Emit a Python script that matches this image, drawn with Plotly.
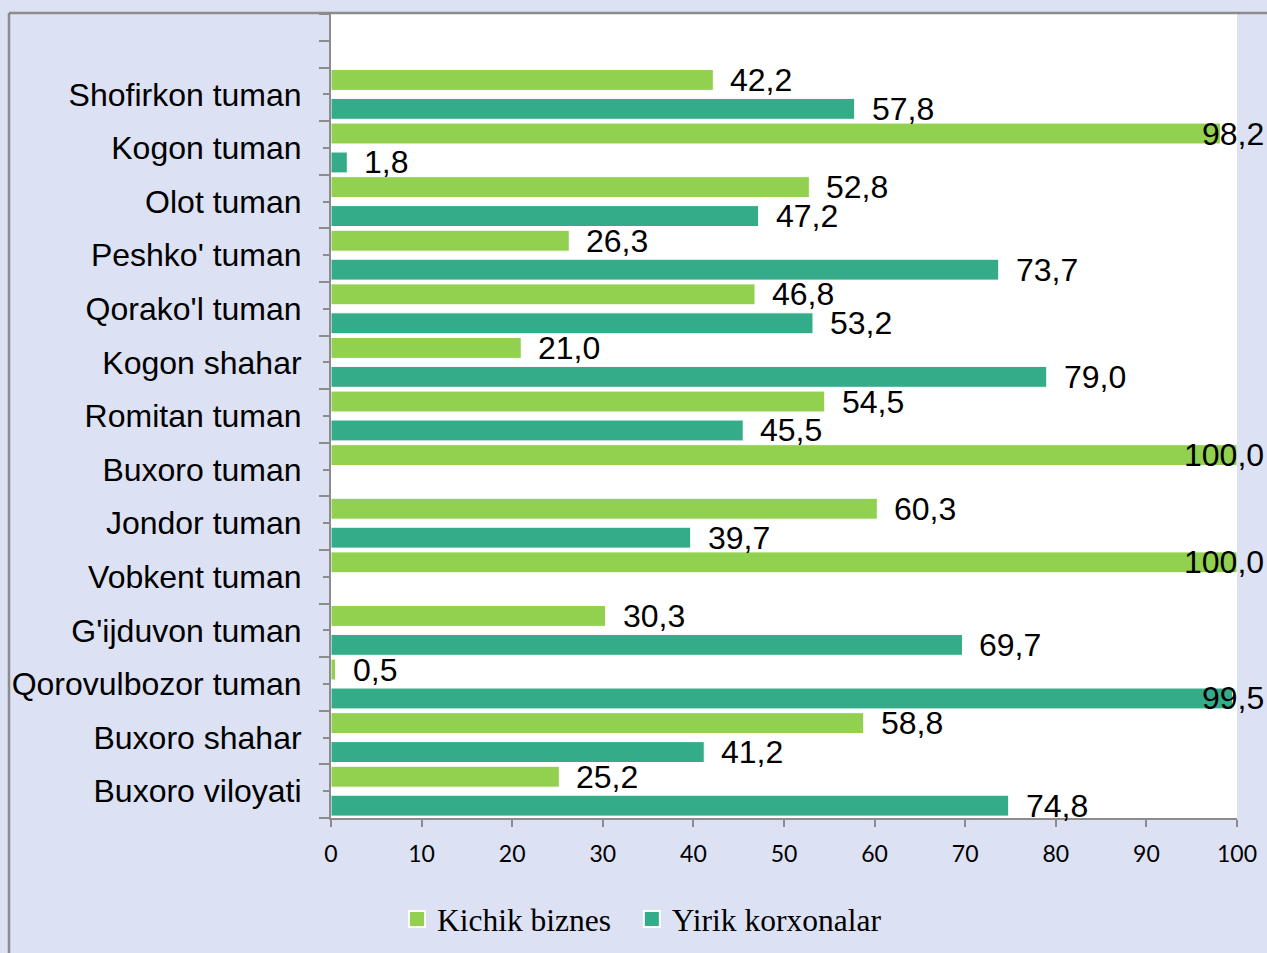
import plotly.graph_objects as go

categories = ["Shofirkon tuman", "Kogon tuman", "Olot tuman", "Peshko' tuman",
              "Qorako'l tuman", "Kogon shahar", "Romitan tuman", "Buxoro tuman",
              "Jondor tuman", "Vobkent tuman", "G'ijduvon tuman", "Qorovulbozor tuman",
              "Buxoro shahar", "Buxoro viloyati"]
kichik = [42.2, 98.2, 52.8, 26.3, 46.8, 21.0, 54.5, 100.0, 60.3, 100.0, 30.3, 0.5, 58.8, 25.2]
yirik = [57.8, 1.8, 47.2, 73.7, 53.2, 79.0, 45.5, None, 39.7, None, 69.7, 99.5, 41.2, 74.8]
x_ticks = [0, 10, 20, 30, 40, 50, 60, 70, 80, 90, 100]

n = len(categories)
pos = [n - 1 - i for i in range(n)]  # top-to-bottom order, one blank slot above

GREEN = "#92D050"
TEAL = "#34AC8A"
GRAY = "#8C8C8C"
BG = "#DCE1F3"

BAR_W = 0.39
OFF_K = 0.075
OFF_Y = -0.465

def fmt(v):
    return f"{v:.1f}".replace(".", ",")

fig = go.Figure()
fig.add_trace(go.Bar(
    name="Yirik korxonalar", y=pos, x=yirik, orientation="h",
    width=BAR_W, offset=OFF_Y, marker=dict(color=TEAL, line=dict(color="white", width=1)),
    showlegend=False,
))
fig.add_trace(go.Bar(
    name="Kichik biznes", y=pos, x=kichik, orientation="h",
    width=BAR_W, offset=OFF_K, marker=dict(color=GREEN, line=dict(color="white", width=1)),
    showlegend=False,
))
# legend entries (square swatches like the reference)
for name, col in (("Kichik biznes\u00a0\u00a0", GREEN), ("Yirik korxonalar", TEAL)):
    fig.add_trace(go.Scatter(
        name=name, x=[None], y=[None], mode="markers",
        marker=dict(symbol="square", size=16, color=col, line=dict(color="white", width=2)),
        showlegend=True,
    ))

label_font = dict(family="Liberation Sans, Arial", size=32, color="black")
for series, off in ((kichik, OFF_K), (yirik, OFF_Y)):
    for p, v in zip(pos, series):
        if v is None:
            continue
        yc = p + off + BAR_W / 2
        if v >= 98:
            fig.add_annotation(x=1, xref="paper", y=yc, yref="y", text=fmt(v),
                               showarrow=False, xanchor="right", xshift=29,
                               font=label_font)
        else:
            fig.add_annotation(x=v, xref="x", y=yc, yref="y", text=fmt(v),
                               showarrow=False, xanchor="left", xshift=15,
                               font=label_font)

# outer chart border (top and left visible)
fig.add_shape(type="line", xref="paper", yref="paper",
              x0=(9 - 331) / 906, x1=(1267 - 331) / 906 + 0.05,
              y0=1 + 1.0 / 804, y1=1 + 1.0 / 804, line=dict(color=GRAY, width=2.5))
fig.add_shape(type="line", xref="paper", yref="paper",
              x0=(9 - 331) / 906, x1=(9 - 331) / 906,
              y0=1 + 1.0 / 804, y1=-0.2, line=dict(color=GRAY, width=2.5))

fig.update_layout(
    width=1267, height=953,
    margin=dict(l=331, r=30, t=14, b=135, autoexpand=False),
    paper_bgcolor=BG, plot_bgcolor="white",
    barmode="overlay",
    showlegend=True,
    legend=dict(orientation="h", x=(397 - 331) / 906, xanchor="left",
                yref="container", y=1 - 919 / 953, yanchor="middle",
                font=dict(family="Liberation Serif, Times New Roman", size=31.5, color="black"),
                bgcolor="rgba(0,0,0,0)"),
    xaxis=dict(range=[0, 100], tickvals=x_ticks, ticks="outside", ticklen=7,
               tickcolor=GRAY, tickwidth=2, showline=True, linecolor=GRAY, linewidth=2,
               showgrid=False, zeroline=False, ticklabelstandoff=7, automargin=False,
               tickfont=dict(family="Lato, Carlito", size=23, color="black")),
    yaxis=dict(range=[-0.5, n + 0.5], tickmode="array", tickvals=pos, ticktext=categories,
               ticks="outside", ticklen=6, tickcolor=GRAY, tickwidth=2,
               showline=True, linecolor=GRAY, linewidth=2, showgrid=False, zeroline=False,
               automargin=False,
               tickfont=dict(family="Liberation Sans, Arial", size=32, color="black"),
               ticklabelstandoff=15,
               minor=dict(tickmode="array", tickvals=[p + 0.5 for p in range(-1, n + 1)] + [n],
                          ticks="outside", ticklen=10, tickcolor=GRAY, tickwidth=2,
                          showgrid=False)),
)

fig.write_html("out.html", config={"displayModeBar": False},
               post_script="document.body.style.margin='0';document.body.style.overflow='hidden';")
